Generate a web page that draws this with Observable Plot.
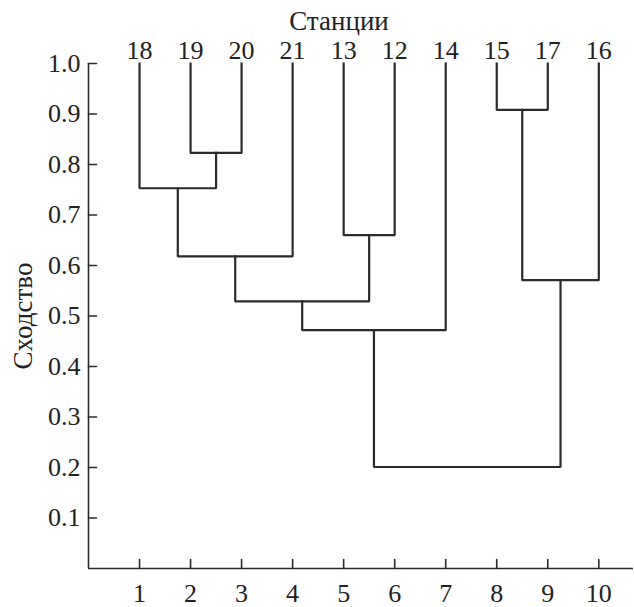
<!DOCTYPE html>
<html><head><meta charset="utf-8">
<script src="https://cdn.jsdelivr.net/npm/d3@7"></script>
<script src="https://cdn.jsdelivr.net/npm/@observablehq/plot@0.6"></script>
<style>body{margin:0;background:#fff}</style>
</head><body><div id="chart"></div>
<script>
// Leaves (stations) in dendrogram order, at x positions 1..10
const stations = ["18","19","20","21","13","12","14","15","17","16"];
const positions = [1,2,3,4,5,6,7,8,9,10];
// Merges: references "L<i>" = leaf i, "M<k>" = merge k; height = similarity
const mergeLeft   = ["L1","L0","M1","L4","M2","M4","L7","M6","M5"];
const mergeRight  = ["L2","M0","L3","L5","M3","L6","L8","L9","M7"];
const mergeHeight = [0.823,0.753,0.618,0.660,0.529,0.472,0.908,0.571,0.201];
const xTicks = [1,2,3,4,5,6,7,8,9,10];
const yTicks = [0.1,0.2,0.3,0.4,0.5,0.6,0.7,0.8,0.9,1.0];
const xTitle = "Станции";
const yTitle = "Сходство";

const nodes = {};
stations.forEach((s, i) => nodes["L" + i] = {x: positions[i], y: 1});
mergeHeight.forEach((h, k) => {
  const a = nodes[mergeLeft[k]], b = nodes[mergeRight[k]];
  nodes["M" + k] = {x: (a.x + b.x) / 2, y: h};
});
const pathPts = [];
mergeHeight.forEach((h, k) => {
  const a = nodes[mergeLeft[k]], b = nodes[mergeRight[k]];
  pathPts.push({k, x: a.x, y: a.y}, {k, x: a.x, y: h}, {k, x: b.x, y: h}, {k, x: b.x, y: b.y});
});
const leaves = stations.map((s, i) => ({s, x: positions[i], y: 1}));

const ink = "#2b2b2b";
const txt = "#222";
const tickShape = {draw(ctx, l) { ctx.moveTo(0, 0); ctx.lineTo(0, -l); }};
const font = "Liberation Serif";
const fs = 26;
const fsTitle = 27;

const chart = Plot.plot({
  width: 634, height: 607,
  marginTop: 63, marginBottom: 39, marginLeft: 88, marginRight: 1,
  x: {domain: [0, 10.68]},
  y: {domain: [0, 1]},
  marks: [
    Plot.line(pathPts, {x: "x", y: "y", z: "k", stroke: ink, strokeWidth: 2.2, strokeLinejoin: "miter", strokeLinecap: "square"}),
    Plot.ruleY([0], {stroke: ink, strokeWidth: 1.6}),
    Plot.ruleX([0], {stroke: ink, strokeWidth: 1.6}),
    Plot.vector(xTicks, {x: d => d, y: 0, length: 9, rotate: 0, anchor: "start", shape: tickShape, stroke: ink, strokeWidth: 1.6}),
    Plot.vector(yTicks, {x: 0, y: d => d, length: 8, rotate: 90, anchor: "start", shape: tickShape, stroke: ink, strokeWidth: 1.6}),
    Plot.axisX(xTicks, {anchor: "bottom", tickSize: 0, tickPadding: 15, label: null, fontSize: fs, fontFamily: font, fill: txt}),
    Plot.axisY(yTicks, {anchor: "left", tickSize: 0, tickPadding: 8, tickFormat: d3.format(".1f"), label: null, fontSize: fs, fontFamily: font, fill: txt}),
    Plot.text([yTitle], {frameAnchor: "left", text: d => d, rotate: -90, textAnchor: "middle", dx: -65, fontSize: fsTitle, fontFamily: font, fill: txt}),
    Plot.text(leaves, {x: "x", y: "y", text: "s", lineAnchor: "bottom", dy: -5, fontSize: fs, fontFamily: font, fill: txt}),
    Plot.text([xTitle], {frameAnchor: "top", text: d => d, textAnchor: "middle", dx: -22, dy: -53, lineAnchor: "top", fontSize: fsTitle, fontFamily: font, fill: txt})
  ]
});
document.getElementById("chart").appendChild(chart);
</script>
</body></html>
